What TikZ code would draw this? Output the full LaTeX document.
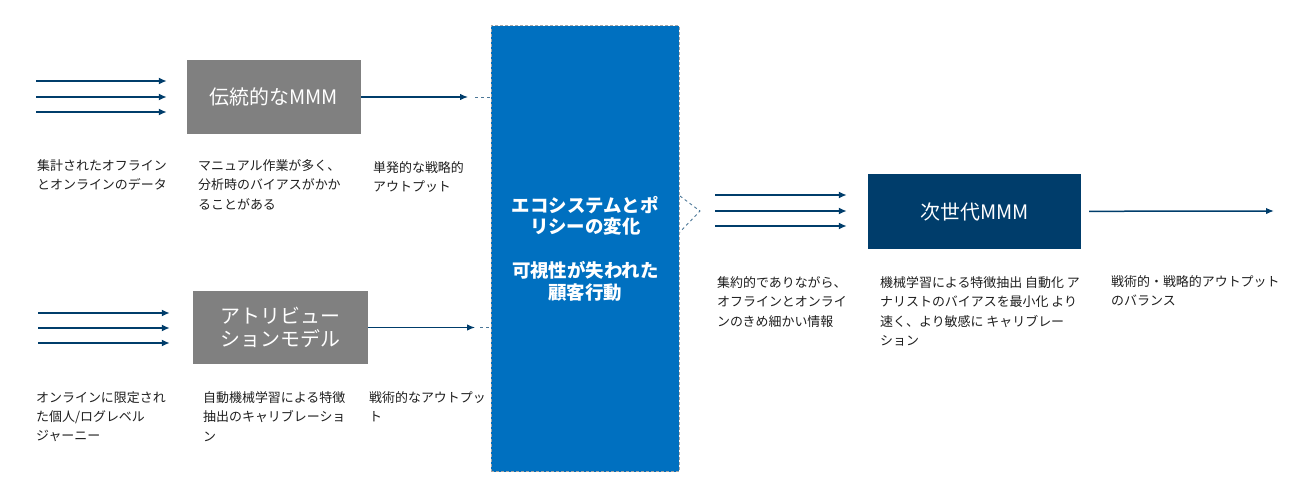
\documentclass[tikz,border=0pt]{standalone}
\usepackage{fontspec}
\setmainfont{Noto Sans CJK JP}
\usetikzlibrary{arrows.meta}
\definecolor{navy}{HTML}{003D6B}
\definecolor{midblue}{HTML}{0070C0}
\definecolor{boxgray}{HTML}{808080}
\definecolor{txt}{HTML}{1E1E1E}
\begin{document}
\begin{tikzpicture}[x=1bp,y=-1bp,
	inarrow/.style={draw=navy, line width=1.8bp, -{Latex[length=8bp,width=7bp]}},
	outarrow/.style={draw=navy, line width=1.2bp, -{Latex[length=8bp,width=6.5bp]}},
	link/.style={draw=navy!70, line width=0.9bp, dash pattern=on 3bp off 3bp},
	oldbox/.style={fill=boxgray, text=white, inner sep=0, align=center, font=\fontsize{20}{23}\selectfont},
	note/.style={anchor=north west, inner sep=0, align=left, text=txt, font=\fontsize{13}{19.5}\selectfont}]
	\useasboundingbox (0,0) rectangle (1300,492);
	% boxes
	\node (trad) at (274,97) [oldbox, minimum width=174bp, minimum height=74bp] {伝統的なMMM};
	\node (attr) at (280.5,327.5) [oldbox, minimum width=175bp, minimum height=73bp] {アトリビュー\\ションモデル};
	\node (eco) at (585.3,248.8) [fill=midblue, draw=gray!70, line width=1.2bp, dash pattern=on 3bp off 2bp, minimum width=188bp, minimum height=446bp, text=white, align=center, font=\bfseries\fontsize{18.5}{22}\selectfont] {エコシステムとポ\\リシーの変化\\[22bp]可視性が失われた\\顧客行動};
	\node (next) at (974.5,211.5) [fill=navy, text=white, minimum width=213bp, minimum height=74bp, font=\fontsize{20}{23}\selectfont] {次世代MMM};
	% inputs
	\foreach \y [count=\i] in {81,97,112} {
		\coordinate (ta\i) at (36,\y);
		\draw[inarrow, shorten >=20bp] (ta\i) -- (ta\i -| trad.west);
	}
	\foreach \y [count=\i] in {313,328,343} {
		\coordinate (ab\i) at (38,\y);
		\draw[inarrow, shorten >=23bp] (ab\i) -- (ab\i -| attr.west);
	}
	\foreach \y [count=\i] in {195,211,226} {
		\coordinate (nx\i) at (715,\y);
		\draw[inarrow, shorten >=21bp] (nx\i) -- (nx\i -| next.west);
	}
	% outputs
	\coordinate (tradtip) at (468,97);
	\draw[outarrow] (trad) -- (tradtip);
	\draw[link, shorten <=7bp] (tradtip) -- (tradtip -| eco.west);
	\coordinate (attrtip) at (475,327.5);
	\draw[outarrow] (attr) -- (attrtip);
	\draw[link, shorten <=5bp] (attrtip) -- (attrtip -| eco.west);
	\coordinate (apex) at (700,211);
	\draw[link] (eco.east |- 0,196) -- (apex) -- (eco.east |- 0,232);
	\coordinate (nexttip) at (1274,211);
	\draw[outarrow, line width=1.5bp, shorten <=8bp] (next) -- (nexttip);
	% notes
	\node (srcA) at (37,159) [note] {集計されたオフライン\\とオンラインのデータ};
	\node (workA) at (198,159) [note] {マニュアル作業が多く、\\分析時のバイアスがかか\\ることがある};
	\node (outA) at (373,161) [note] {単発的な戦略的\\アウトプット};
	\node (srcB) at (36,391) [note] {オンラインに限定され\\た個人/ログレベル\\ジャーニー};
	\node (workB) at (203,391) [note] {自動機械学習による特徴\\抽出のキャリブレーショ\\ン};
	\node (outB) at (369,391) [note] {戦術的なアウトプッ\\ト};
	\node (srcC) at (717,276) [note] {集約的でありながら、\\オフラインとオンライ\\ンのきめ細かい情報};
	\node (workC) at (880,276) [note] {機械学習による特徴抽出 自動化 ア\\ナリストのバイアスを最小化 より\\速く、より敏感に キャリブレー\\ション};
	\node (outC) at (1111,275) [note] {戦術的・戦略的アウトプット\\のバランス};
\end{tikzpicture}
\end{document}
